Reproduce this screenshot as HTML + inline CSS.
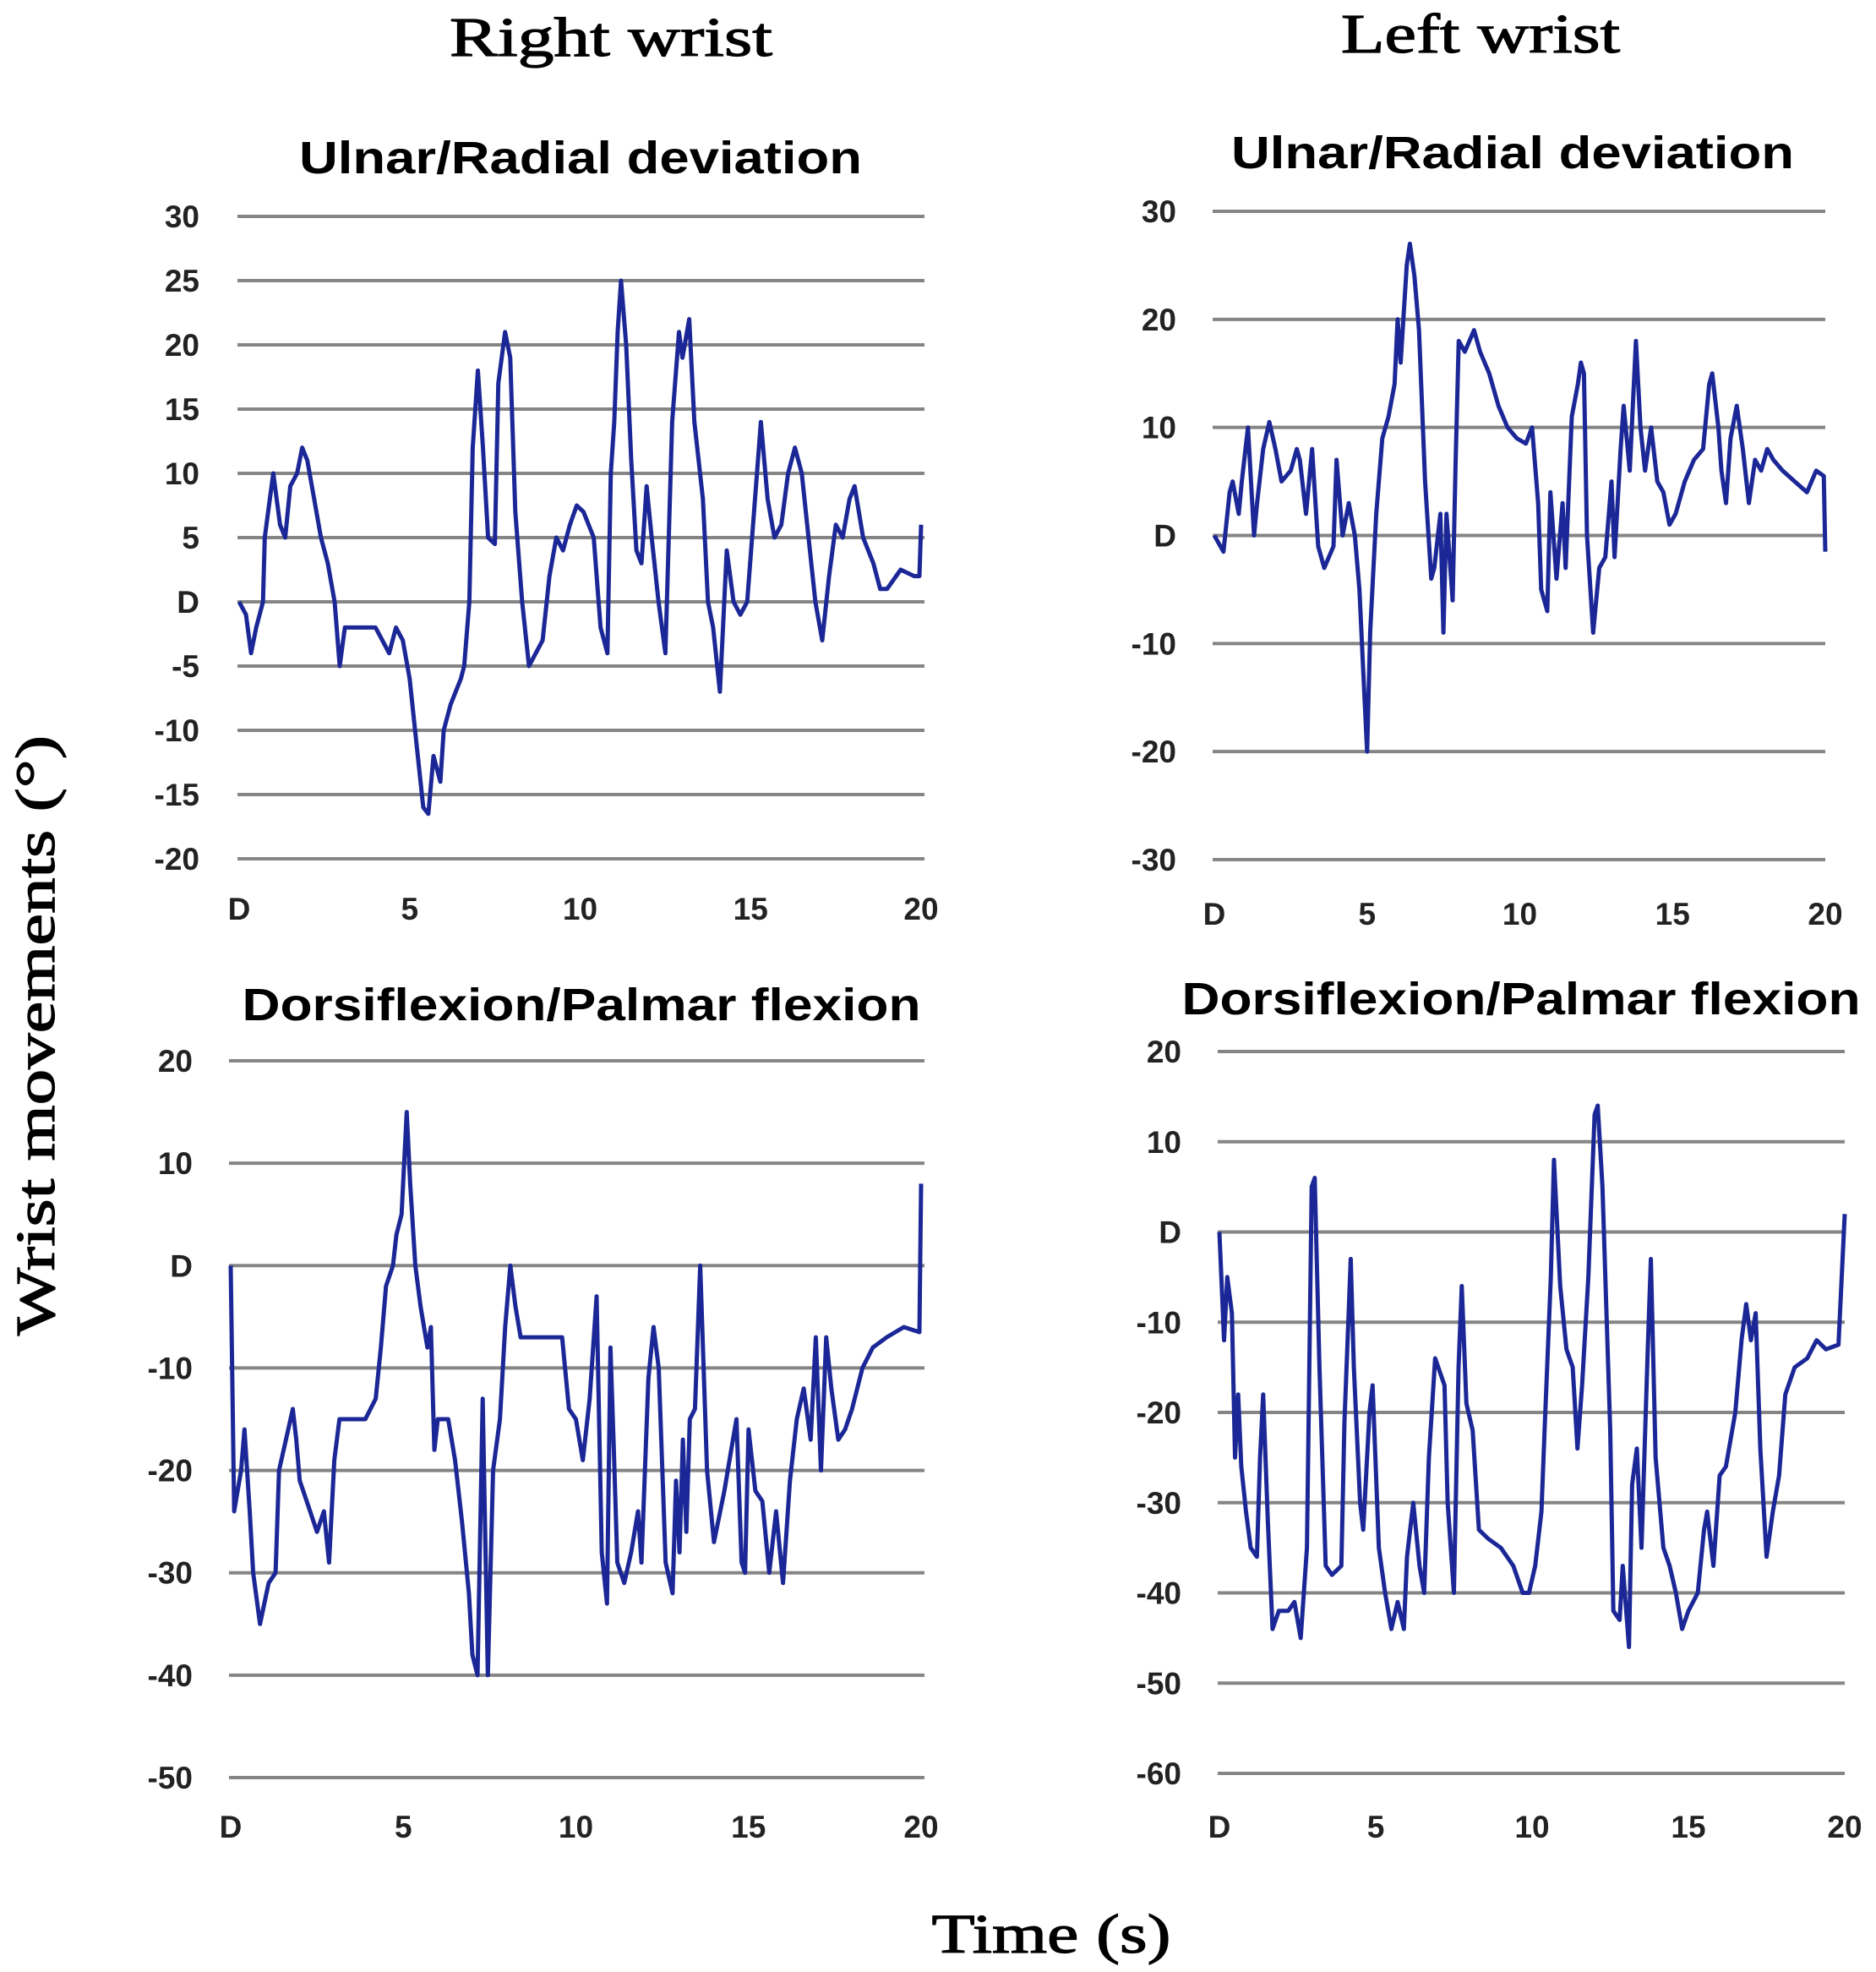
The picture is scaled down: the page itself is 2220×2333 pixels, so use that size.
<!DOCTYPE html>
<html><head><meta charset="utf-8"><style>
html,body{margin:0;padding:0;background:#fff;}
svg{display:block;}
.ttl{font-family:"Liberation Serif",serif;font-weight:normal;stroke:#000;stroke-width:1.2px;}
.sub{font-family:"Liberation Sans",sans-serif;font-weight:bold;}
.tick{font-family:"Liberation Sans",sans-serif;font-weight:bold;font-size:37px;fill:#222;}
</style></head><body>
<svg id="fig" width="2220" height="2333" viewBox="0 0 2220 2333">
<text class="ttl" x="723" y="66" font-size="66" text-anchor="middle" textLength="382" lengthAdjust="spacingAndGlyphs">Right wrist</text>
<text class="ttl" x="1752" y="62" font-size="66" text-anchor="middle" textLength="330" lengthAdjust="spacingAndGlyphs">Left wrist</text>
<text class="sub" x="687" y="205" font-size="54" text-anchor="middle" textLength="666" lengthAdjust="spacingAndGlyphs">Ulnar/Radial deviation</text>
<text class="sub" x="1790" y="199" font-size="54" text-anchor="middle" textLength="666" lengthAdjust="spacingAndGlyphs">Ulnar/Radial deviation</text>
<text class="sub" x="688" y="1207" font-size="54" text-anchor="middle" textLength="803" lengthAdjust="spacingAndGlyphs">Dorsiflexion/Palmar flexion</text>
<text class="sub" x="1800" y="1200" font-size="54" text-anchor="middle" textLength="803" lengthAdjust="spacingAndGlyphs">Dorsiflexion/Palmar flexion</text>
<text class="ttl" transform="translate(64,1225) rotate(-90)" font-size="66" text-anchor="middle" textLength="710" lengthAdjust="spacingAndGlyphs">Wrist movements (°)</text>
<text class="ttl" x="1244" y="2310" font-size="66" text-anchor="middle" textLength="283" lengthAdjust="spacingAndGlyphs">Time (s)</text>
</svg>
<script>
const xTicks = [0,5,10,15,20];
const ticksRU = [30,25,20,15,10,5,0,-5,-10,-15,-20];
const ticksLU = [30,20,10,0,-10,-20,-30];
const ticksRD = [20,10,0,-10,-20,-30,-40,-50];
const ticksLD = [20,10,0,-10,-20,-30,-40,-50,-60];

const timeRU = [0,0.2,0.35,0.5,0.7,0.75,0.9,1.0,1.1,1.2,1.35,1.5,1.7,1.85,2.0,2.2,2.4,2.6,2.8,2.95,3.1,3.5,4.0,4.2,4.4,4.6,4.8,5.0,5.2,5.4,5.55,5.7,5.9,6.0,6.2,6.5,6.6,6.75,6.85,7.0,7.15,7.3,7.5,7.6,7.8,7.95,8.1,8.3,8.5,8.7,8.9,9.1,9.3,9.5,9.7,9.9,10.1,10.4,10.6,10.8,10.9,11.0,11.1,11.2,11.35,11.5,11.65,11.8,11.95,12.1,12.3,12.5,12.7,12.9,13.0,13.2,13.35,13.6,13.75,13.9,14.1,14.3,14.5,14.7,14.9,15.1,15.3,15.5,15.7,15.9,16.1,16.3,16.5,16.7,16.9,17.1,17.3,17.5,17.7,17.9,18.05,18.3,18.6,18.8,19.0,19.4,19.8,19.95,20];
const valsRU = [0,-1,-4,-2,0,5,8,10,8,6,5,9,10,12,11,8,5,3,0,-5,-2,-2,-2,-3,-4,-2,-3,-6,-11,-16,-16.5,-12,-14,-10,-8,-6,-5,0,12,18,12,5,4.5,17,21,19,7,0,-5,-4,-3,2,5,4,6,7.5,7,5,-2,-4,10,14,21,25,20,11,4,3,9,5,0,-4,14,21,19,22,14,8,0,-2,-7,4,0,-1,0,7,14,8,5,6,10,12,10,5,0,-3,2,6,5,8,9,5,3,1,1,2.5,2,2,6];

const timeLU = [0,0.3,0.5,0.6,0.8,0.9,1.1,1.3,1.4,1.6,1.8,2.0,2.2,2.5,2.7,2.8,3.0,3.2,3.4,3.6,3.9,4.0,4.2,4.4,4.6,4.75,4.9,5.0,5.1,5.3,5.5,5.7,5.9,6.0,6.1,6.3,6.4,6.55,6.7,6.9,7.1,7.2,7.4,7.5,7.6,7.8,7.9,8.0,8.2,8.5,8.7,9.0,9.3,9.6,9.9,10.2,10.4,10.6,10.7,10.9,11.0,11.2,11.4,11.5,11.7,11.9,12.0,12.1,12.2,12.4,12.6,12.8,13.0,13.1,13.3,13.4,13.6,13.8,13.95,14.1,14.3,14.5,14.7,14.9,15.1,15.4,15.7,16.0,16.2,16.3,16.5,16.6,16.75,16.9,17.1,17.3,17.5,17.7,17.9,18.1,18.3,18.6,19.0,19.4,19.7,19.95,20];
const valsLU = [0,-1.5,4,5,2,5,10,0,3,8,10.5,8,5,6,8,7,2,8,-1,-3,-1,7,0,3,0,-5,-14,-20,-9,2,9,11,14,20,16,25,27,24,19,5,-4,-3,2,-9,2,-6,7,18,17,19,17,15,12,10,9,8.5,10,3,-5,-7,4,-4,3,-3,11,14,16,15,0,-9,-3,-2,5,-2,8,12,6,18,10,6,10,5,4,1,2,5,7,8,14,15,10,6,3,9,12,8,3,7,6,8,7,6,5,4,6,5.5,-1.5];

const timeRD = [0,0.1,0.3,0.4,0.55,0.65,0.85,1.1,1.3,1.4,1.6,1.8,1.9,2.0,2.3,2.5,2.7,2.85,3.0,3.15,3.5,3.9,4.2,4.35,4.5,4.7,4.8,4.95,5.1,5.2,5.35,5.5,5.7,5.8,5.9,6.0,6.3,6.5,6.7,6.9,7.0,7.15,7.3,7.45,7.6,7.8,7.95,8.1,8.25,8.4,8.8,9.2,9.6,9.8,10.0,10.2,10.4,10.6,10.75,10.9,11.0,11.1,11.2,11.4,11.6,11.8,11.9,12.1,12.25,12.4,12.6,12.8,12.9,13.0,13.1,13.2,13.3,13.45,13.6,13.8,14.0,14.3,14.5,14.65,14.8,14.9,15.0,15.2,15.4,15.6,15.8,16.0,16.2,16.4,16.6,16.8,16.95,17.1,17.25,17.4,17.6,17.8,18.0,18.3,18.6,19.0,19.5,19.95,20];
const valsRD = [0,-24,-20,-16,-24,-30,-35,-31,-30,-20,-17,-14,-17,-21,-24,-26,-24,-29,-19,-15,-15,-15,-13,-8,-2,0,3,5,15,8,0,-4,-8,-6,-18,-15,-15,-19,-25,-32,-38,-40,-13,-40,-20,-15,-6,0,-4,-7,-7,-7,-7,-14,-15,-19,-13,-3,-28,-33,-8,-18,-29,-31,-28,-24,-29,-11,-6,-10,-29,-32,-21,-28,-17,-26,-15,-14,0,-20,-27,-22,-18,-15,-29,-30,-16,-22,-23,-30,-24,-31,-21,-15,-12,-17,-7,-20,-7,-12,-17,-16,-14,-10,-8,-7,-6,-6.5,8];

const timeLD = [0,0.15,0.25,0.4,0.5,0.6,0.7,0.85,1.0,1.2,1.3,1.4,1.55,1.7,1.9,2.2,2.4,2.6,2.8,2.95,3.05,3.2,3.4,3.6,3.9,4.0,4.2,4.3,4.5,4.6,4.8,4.9,5.1,5.3,5.5,5.7,5.9,6.0,6.2,6.4,6.55,6.7,6.9,7.0,7.2,7.3,7.5,7.65,7.75,7.9,8.1,8.3,8.6,9.0,9.4,9.7,9.9,10.1,10.3,10.4,10.6,10.7,10.9,11.1,11.3,11.45,11.6,11.8,12.0,12.1,12.25,12.5,12.6,12.8,12.9,13.1,13.2,13.35,13.5,13.7,13.8,13.95,14.2,14.4,14.6,14.8,15.0,15.3,15.5,15.6,15.8,16.0,16.2,16.5,16.7,16.85,17.0,17.15,17.3,17.5,17.7,17.9,18.1,18.4,18.8,19.1,19.4,19.8,20];
const valsLD = [0,-12,-5,-9,-25,-18,-26,-31,-35,-36,-25,-18,-32,-44,-42,-42,-41,-45,-35,5,6,-15,-37,-38,-37,-21,-3,-15,-30,-33,-20,-17,-35,-40,-44,-41,-44,-36,-30,-37,-40,-25,-14,-15,-17,-30,-40,-15,-6,-19,-22,-33,-34,-35,-37,-40,-40,-37,-31,-22,-5,8,-6,-13,-15,-24,-17,-5,13,14,5,-22,-42,-43,-37,-46,-28,-24,-35,-13,-3,-25,-35,-37,-40,-44,-42,-40,-33,-31,-37,-27,-26,-20,-12,-8,-12,-9,-24,-36,-31,-27,-18,-15,-14,-12,-13,-12.5,2];

const NS='http://www.w3.org/2000/svg';
const svg=document.getElementById('fig');
function mk(tag,attrs){const e=document.createElementNS(NS,tag);for(const k in attrs)e.setAttribute(k,attrs[k]);svg.appendChild(e);return e;}

function panel(p,times,vals,yticks){
  const ymax=yticks[0], ymin=yticks[yticks.length-1];
  const xs=t=>p.x0+(t-0)/20*(p.x1-p.x0);
  const ys=v=>p.yTop+(ymax-v)/(ymax-ymin)*(p.yBot-p.yTop);
  yticks.forEach(v=>{
    const g=mk('line',{x1:p.gx0,x2:p.gx1,y1:ys(v),y2:ys(v),stroke:'#858585','stroke-width':4});
    
    
    const t=mk('text',{x:p.lx,y:ys(v)+13,'text-anchor':'end',class:'tick'});
    t.textContent=(v<0?'-':'')+(v===0?'D':Math.abs(v));
    
    
  });
  xTicks.forEach(v=>{
    const t=mk('text',{x:xs(v),y:p.xly,'text-anchor':'middle',class:'tick'});
    t.textContent=v===0?'D':v;
    
    
  });
  const pts=times.map((t,i)=>xs(t).toFixed(1)+','+ys(vals[i]).toFixed(1)).join(' ');
  const l=mk('polyline',{points:pts,fill:'none',stroke:'#1b2796','stroke-width':5,'stroke-linejoin':'round'});
  
  
}
panel({id:'right-ulnar-radial',x0:283,x1:1090,gx0:281,gx1:1094,yTop:256,yBot:1016,lx:236,xly:1088},timeRU,valsRU,ticksRU);
panel({id:'left-ulnar-radial',x0:1437,x1:2160,gx0:1435,gx1:2160,yTop:250,yBot:1017,lx:1392,xly:1094},timeLU,valsLU,ticksLU);
panel({id:'right-dorsi-palmar',x0:273,x1:1090,gx0:271,gx1:1094,yTop:1255,yBot:2103,lx:228,xly:2174},timeRD,valsRD,ticksRD);
panel({id:'left-dorsi-palmar',x0:1443,x1:2183,gx0:1441,gx1:2183,yTop:1244,yBot:2098,lx:1398,xly:2174},timeLD,valsLD,ticksLD);
</script>
</body></html>
